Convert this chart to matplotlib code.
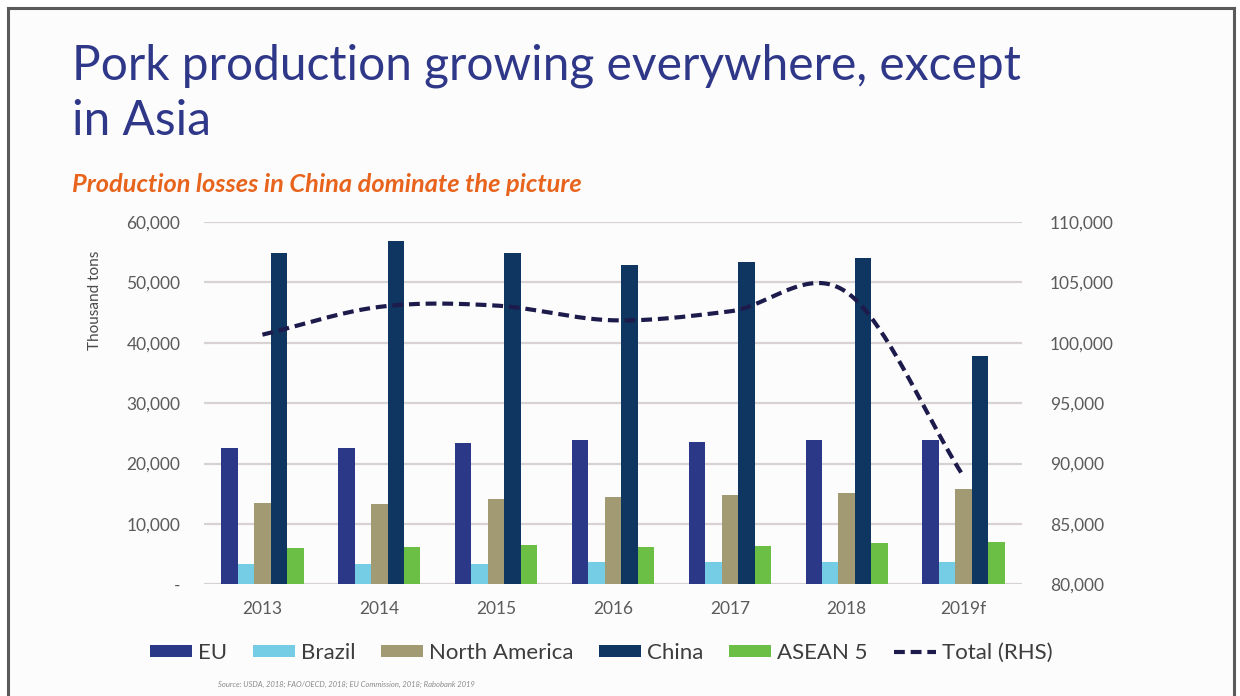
import numpy as np
import matplotlib
matplotlib.use("Agg")
import matplotlib.pyplot as plt
from matplotlib.lines import Line2D
from matplotlib.patches import Patch, Rectangle
from matplotlib.ticker import FuncFormatter, MultipleLocator

# ---- data (thousand tons) ----
years = ["2013", "2014", "2015", "2016", "2017", "2018", "2019f"]
eu = [22550, 22650, 23380, 23820, 23600, 23820, 23980]
brazil = [3320, 3320, 3420, 3650, 3650, 3650, 3750]
north_america = [13430, 13320, 14100, 14430, 14760, 15190, 15800]
china = [54890, 56820, 54890, 52950, 53400, 54060, 37860]
asean5 = [5970, 6190, 6520, 6190, 6350, 6850, 6960]
total_rhs = [100670, 102970, 103080, 101860, 102600, 104180, 88920]

series_names = ["EU", "Brazil", "North America", "China", "ASEAN 5"]
series_values = [eu, brazil, north_america, china, asean5]
series_colors = ["#2b3888", "#74cde4", "#a19a72", "#0f3561", "#6bbf44"]
line_color = "#1d1b4c"

FONT = ["Lato", "DejaVu Sans"]
plt.rcParams["font.family"] = FONT

fig = plt.figure(figsize=(12.4, 6.96), dpi=100)
fig.patch.set_facecolor("white")

# slide background and frame
fig.patches.append(Rectangle((7 / 1240, 0), (1234 - 7) / 1240, 1 - 8 / 696,
                             transform=fig.transFigure, facecolor="#fcfcfc",
                             edgecolor="none", zorder=-10))
for xs, ys in [((7.5, 7.5), (0, 688.5)), ((1233.5, 1233.5), (0, 688.5)),
               ((7.5, 1233.5), (688.5, 688.5))]:
    fig.add_artist(Line2D(np.array(xs) / 1240, np.array(ys) / 696,
                          transform=fig.transFigure, color="#5a5a5a", lw=2.2))

ax = fig.add_axes([204 / 1240, 1 - 584.3 / 696, (1022 - 204) / 1240, (584.3 - 222) / 696])
ax.set_facecolor("none")
ax2 = ax.twinx()

# ---- clustered bars ----
x = np.arange(len(years))
bw = 0.141
for i, (name, vals, col) in enumerate(zip(series_names, series_values, series_colors)):
    ax.bar(x + (i - 2) * bw, vals, width=bw, color=col, label=name, zorder=3)

ax.set_xlim(-0.5, len(years) - 0.5)
ax.set_ylim(0, 60000)
ax.yaxis.set_major_locator(MultipleLocator(10000))
ax.yaxis.set_major_formatter(FuncFormatter(lambda v, p: "-" if v == 0 else f"{int(v):,}"))
ax.grid(axis="y", color="#d9d2d2", lw=1.6, zorder=0)
ax.set_axisbelow(True)
ax.set_xticks(x)
ax.set_xticklabels(years)

# ---- smoothed total line on the right axis (Catmull-Rom through the points) ----
def catmull_rom(xp, yp, n=40):
    xp = np.asarray(xp, float)
    yp = np.asarray(yp, float)
    px = np.concatenate([[2 * xp[0] - xp[1]], xp, [2 * xp[-1] - xp[-2]]])
    py = np.concatenate([[2 * yp[0] - yp[1]], yp, [2 * yp[-1] - yp[-2]]])
    outx, outy = [], []
    t = np.linspace(0, 1, n, endpoint=False)
    for k in range(1, len(px) - 2):
        p0, p1, p2, p3 = py[k - 1], py[k], py[k + 1], py[k + 2]
        m1 = (p2 - p0) / 2
        m2 = (p3 - p1) / 2
        h00 = 2 * t**3 - 3 * t**2 + 1
        h10 = t**3 - 2 * t**2 + t
        h01 = -2 * t**3 + 3 * t**2
        h11 = t**3 - t**2
        outy.append(h00 * p1 + h10 * m1 + h01 * p2 + h11 * m2)
        outx.append(px[k] + t * (px[k + 1] - px[k]))
    outx.append([xp[-1]])
    outy.append([yp[-1]])
    return np.concatenate(outx), np.concatenate(outy)

sx, sy = catmull_rom(x, total_rhs)
ax2.plot(sx, sy, color=line_color, lw=3.0, dashes=(2.6, 1.4),
         solid_capstyle="butt", zorder=4)
ax2.set_ylim(80000, 110000)
ax2.yaxis.set_major_locator(MultipleLocator(5000))
ax2.yaxis.set_major_formatter(FuncFormatter(lambda v, p: f"{int(v):,}"))

tick_color = "#5b5b5b"
for a in (ax, ax2):
    for s in a.spines.values():
        s.set_visible(False)
    a.tick_params(length=0, colors=tick_color, labelsize=12.5)
ax.tick_params(axis="y", pad=17)
ax2.tick_params(axis="y", pad=20)
ax.tick_params(axis="x", pad=12)
ax.set_zorder(ax2.get_zorder() - 1)
ax2.patch.set_visible(False)

fig.text(95 / 1240, 1 - 300 / 696, "Thousand tons", rotation=90, ha="center",
         va="center", fontsize=11, color="#4a4a4a")

# ---- titles ----
title_color = "#2f3789"
fig.text(72 / 1240, 1 - 79 / 696, "Pork production growing everywhere, except",
         fontsize=34.5, color=title_color, va="baseline", ha="left")
fig.text(72 / 1240, 1 - 135 / 696, "in Asia",
         fontsize=34.5, color=title_color, va="baseline", ha="left")
fig.text(72 / 1240, 1 - 192 / 696, "Production losses in China dominate the picture",
         fontsize=18.3, color="#e8641d", style="italic", weight="bold",
         va="baseline", ha="left")

# ---- legend ----
leg_fs = 16
handles = [Patch(facecolor=c, edgecolor="none") for c in series_colors]
handles.append(Line2D([], [], color=line_color, lw=3.0, dashes=(2.6, 1.4)))
labels = series_names + ["Total (RHS)"]
fig.legend(handles, labels, loc="center", bbox_to_anchor=(601 / 1240, 1 - 653 / 696),
           ncol=6, frameon=False, fontsize=leg_fs, handlelength=1.9, handleheight=0.4,
           handletextpad=0.27, columnspacing=1.15, labelcolor="#3d3d3d",
           borderpad=0, borderaxespad=0)

fig.text(218 / 1240, 1 - 684 / 696,
         "Source: USDA, 2018; FAO/OECD, 2018; EU Commission, 2018; Rabobank 2019",
         fontsize=5.5, style="italic", color="#8a8a8a", va="center", ha="left")

fig.savefig("out.png", dpi=100, facecolor=fig.get_facecolor())
